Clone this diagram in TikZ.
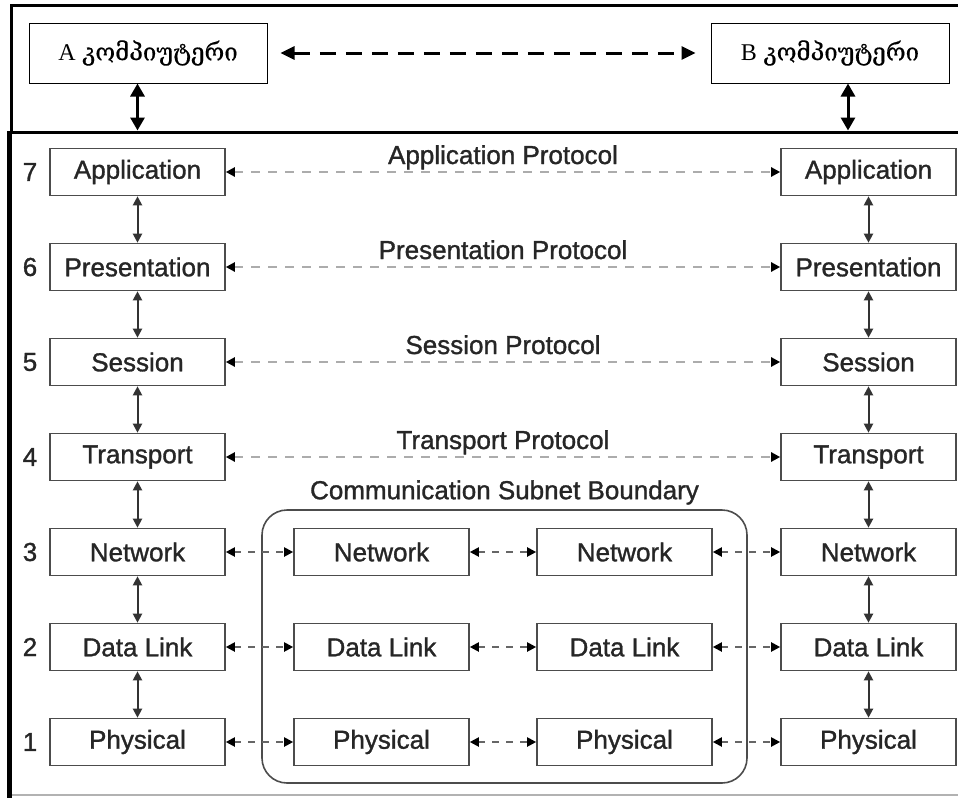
\documentclass[tikz,border=0pt]{standalone}
\usepackage{fontspec}
\setmainfont{Liberation Sans}[FakeBold=1.2]
\newfontfamily\geofont{DejaVu Serif}[FakeBold=0.6]
\newfontfamily\latserif{Liberation Serif}
\usetikzlibrary{arrows.meta,calc}

\tikzset{
  layer/.style={draw=black!70, line width=1.6pt, minimum width=175pt, minimum height=47pt,
    inner sep=0pt, text=black!85, font=\fontsize{26}{30}\selectfont},
  comp/.style={draw=black, line width=1pt, minimum width=238pt, minimum height=60pt,
    inner sep=0pt, font=\fontsize{24}{28}\selectfont},
  lnum/.style={text=black!85, font=\fontsize{26}{30}\selectfont},
  updown/.style={line width=2pt, black!80, {Triangle[length=9pt,width=9pt]}-{Triangle[length=9pt,width=9pt]}},
  proto/.style={gray!65, line width=2.5pt, dash pattern=on 9pt off 8pt,
    {Triangle[length=9pt,width=9pt,color=black]}-{Triangle[length=9pt,width=9pt,color=black]}},
  hop/.style={black!60, line width=2pt, dash pattern=on 7pt off 7pt,
    {Triangle[length=9pt,width=9pt,color=black]}-{Triangle[length=9pt,width=9pt,color=black]}},
  bigdbl/.style={line width=3pt, black, {Triangle[length=13pt,width=14pt]}-{Triangle[length=13pt,width=14pt]}},
  topdash/.style={line width=3pt, black, dash pattern=on 16pt off 10pt,
    {Triangle[length=14pt,width=13pt]}-{Triangle[length=14pt,width=13pt]}},
  subnet/.style={draw=black!70, line width=1.6pt, rounded corners=25pt,
    minimum width=485pt, minimum height=273pt},
  plabel/.style={anchor=base, yshift=8pt, text=black!85, font=\fontsize{26}{30}\selectfont}
}

\begin{document}
\begin{tikzpicture}[x=1pt,y=-1pt]
\useasboundingbox (0,0) rectangle (958,798);

% outer frame: upper strip and lower panel
\draw[line width=3pt] (958,5.5) -- (11.5,5.5) -- (11.5,132.5) -- (958,132.5);
\draw[line width=5pt] (9.5,131) -- (9.5,798);
\draw[gray!60, line width=2pt] (12,795) -- (958,795);

% the two computers
\node[comp] (A) at (148,53) {{\latserif A} {\geofont კომპიუტერი}};
\node[comp] (B) at (830,53) {{\latserif B} {\geofont კომპიუტერი}};
\draw[topdash, shorten <=13pt, shorten >=15pt] (A.east) -- (B.west);

% communication subnet boundary
\node[subnet] (sub) at (504.5,646.5) {};
\node[anchor=base, text=black!85, font=\fontsize{26}{30}\selectfont]
  (sublabel) at ($(sub.north)+(0,-10)$) {Communication Subnet Boundary};

% the seven layers on each side
\foreach \n/\lab/\y in {7/Application/172, 6/Presentation/267, 5/Session/362,
    4/Transport/457, 3/Network/552, 2/Data Link/647, 1/Physical/742} {
  \node[layer] (L\n) at (137.5,\y) {\lab};
  \node[layer] (R\n) at (868.5,\y) {\lab};
  \node[lnum] (N\n) at (30,\y) {\n};
}

% the relay nodes inside the subnet
\foreach \n/\lab/\y in {3/Network/552, 2/Data Link/647, 1/Physical/742} {
  \node[layer] (IL\n) at (381.5,\y) {\lab};
  \node[layer] (IR\n) at (624.5,\y) {\lab};
  \draw[hop] (L\n.east) -- (IL\n.west);
  \draw[hop] (IL\n.east) -- (IR\n.west);
  \draw[hop] (IR\n.east) -- (R\n.west);
}

% peer protocols
\draw[proto] (L7.east) -- node[plabel] (P7) {Application Protocol} (R7.west);
\draw[proto] (L6.east) -- node[plabel] (P6) {Presentation Protocol} (R6.west);
\draw[proto] (L5.east) -- node[plabel] (P5) {Session Protocol} (R5.west);
\draw[proto] (L4.east) -- node[plabel] (P4) {Transport Protocol} (R4.west);

% vertical links between adjacent layers
\foreach \a/\b in {7/6, 6/5, 5/4, 4/3, 3/2, 2/1} {
  \draw[updown] (L\a.south) -- (L\b.north);
  \draw[updown] (R\a.south) -- (R\b.north);
}

% computers down to the stacks
\draw[bigdbl] (A.south -| L7.north) -- ++(0,47);
\coordinate (Bdown) at ($(B.south)+(18,0)$);
\draw[bigdbl] (Bdown) -- ++(0,47);
\end{tikzpicture}
\end{document}
